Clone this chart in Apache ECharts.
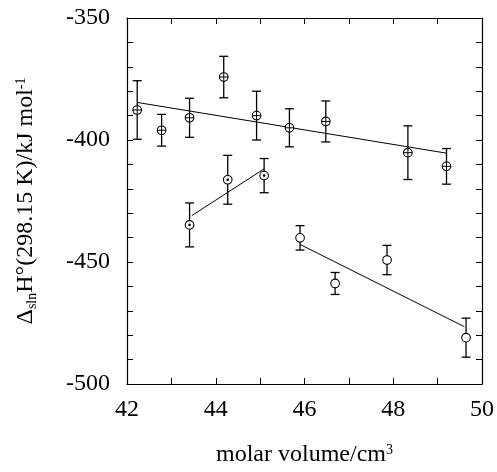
<!DOCTYPE html>
<html><head><meta charset="utf-8">
<script src="https://cdn.jsdelivr.net/npm/echarts@6/dist/echarts.min.js"></script>
<style>html,body{margin:0;padding:0;background:#fff}#c{width:497px;height:472px}</style>
</head><body><div id="c"></div>
<script>
const s1X = [42.23, 42.78, 43.41, 44.18, 44.92, 45.66, 46.48, 48.33, 49.20];
const s1Y = [-387.7, -396.0, -390.9, -374.2, -390.0, -395.0, -392.4, -405.2, -410.8];
const s1Err = [12, 6.5, 8, 8.5, 10, 7.8, 8.4, 11, 7.3];
const s2X = [43.41, 44.27, 45.09];
const s2Y = [-434.8, -416.3, -414.6];
const s2Err = [9, 10, 7];
const s3X = [45.90, 46.69, 47.86, 49.64];
const s3Y = [-440.1, -458.8, -449.2, -481.0];
const s3Err = [5, 4.5, 6, 8];
const fit1X = [42.23, 49.2], fit1Y = [-384.6, -405.4];
const fit2X = [43.46, 45.09], fit2Y = [-431.0, -411.8];
const fit3X = [45.9, 49.6], fit3Y = [-442.8, -476.5];
const xTickLabels = ['42', '44', '46', '48', '50'];
const yTickLabels = ['-350', '-400', '-450', '-500'];

const FONT = "'Liberation Serif', 'Times New Roman', Times, serif";
const pts = (xs, ys, es) => xs.map((x, i) => [x, ys[i], es[i]]);
const line = (xs, ys) => xs.map((x, i) => [x, ys[i]]);

function errRender(params, api) {
  const x = api.value(0), y = api.value(1), e = api.value(2);
  const top = api.coord([x, y + e]), bot = api.coord([x, y - e]);
  const c = 4.5;
  const st = { stroke: '#000', lineWidth: 1.3 };
  return { type: 'group', children: [
    { type: 'line', shape: { x1: top[0], y1: top[1], x2: bot[0], y2: bot[1] }, style: st },
    { type: 'line', shape: { x1: top[0] - c, y1: top[1], x2: top[0] + c, y2: top[1] }, style: st },
    { type: 'line', shape: { x1: bot[0] - c, y1: bot[1], x2: bot[0] + c, y2: bot[1] }, style: st }
  ]};
}
function markRender(kind) {
  return function (params, api) {
    const p = api.coord([api.value(0), api.value(1)]);
    const r = 4.3;
    const st = { stroke: '#000', lineWidth: 1.1, fill: '#fff' };
    const ch = [{ type: 'circle', shape: { cx: p[0], cy: p[1], r: r }, style: st }];
    if (kind === 'plus') {
      ch.push({ type: 'line', shape: { x1: p[0] - r, y1: p[1], x2: p[0] + r, y2: p[1] }, style: { stroke: '#000', lineWidth: 1 } });
      ch.push({ type: 'line', shape: { x1: p[0], y1: p[1] - r, x2: p[0], y2: p[1] + r }, style: { stroke: '#000', lineWidth: 1 } });
    } else if (kind === 'dot') {
      ch.push({ type: 'circle', shape: { cx: p[0], cy: p[1], r: 1.3 }, style: { fill: '#000' } });
    }
    return { type: 'group', children: ch };
  };
}

const chart = echarts.init(document.getElementById('c'));
const axisLine = { show: true, lineStyle: { color: '#000', width: 1.2 } };
const tickStyle = { color: '#000', width: 1 };
chart.setOption({
  animation: false,
  backgroundColor: '#fff',
  grid: { left: 127, right: 15, top: 18, bottom: 81 },
  xAxis: [{
    type: 'value', min: 42, max: 50, interval: 1, position: 'bottom',
    axisLine: axisLine, splitLine: { show: false },
    axisTick: { inside: true, length: 6, lineStyle: tickStyle },
    axisLabel: { fontFamily: FONT, fontSize: 24, color: '#000', margin: 14,
      formatter: v => xTickLabels.includes(String(v)) ? String(v) : '' },
    name: 'molar volume/cm{sup|3}', nameLocation: 'middle', nameGap: 59,
    nameTextStyle: { fontFamily: FONT, fontSize: 24, color: '#000',
      rich: { sup: { fontFamily: FONT, fontSize: 14, color: '#000', verticalAlign: 'top', padding: [0, 0, 10, 0] } } }
  }, {
    type: 'value', min: 42, max: 50, interval: 1, position: 'top',
    axisLine: axisLine, splitLine: { show: false },
    axisTick: { inside: true, length: 6, lineStyle: tickStyle },
    axisLabel: { show: false }
  }],
  yAxis: [{
    type: 'value', min: -500, max: -350, interval: 10, position: 'left',
    axisLine: axisLine, splitLine: { show: false },
    axisTick: { inside: true, length: 6, lineStyle: tickStyle },
    axisLabel: { fontFamily: FONT, fontSize: 24, color: '#000', margin: 17,
      formatter: v => yTickLabels.includes(String(v)) ? String(v) : '' },
    name: 'Δ{sub|sln}H°(298.15 K)/kJ mol{sup|-1}', nameLocation: 'middle', nameRotate: 90, nameGap: 88,
    nameTextStyle: { fontFamily: FONT, fontSize: 24, color: '#000',
      rich: {
        sub: { fontFamily: FONT, fontSize: 14, color: '#000', padding: [12, 0, 0, 0] },
        sup: { fontFamily: FONT, fontSize: 14, color: '#000', padding: [0, 0, 10, 0] }
      } }
  }, {
    type: 'value', min: -500, max: -350, interval: 10, position: 'right',
    axisLine: axisLine, splitLine: { show: false },
    axisTick: { inside: true, length: 6, lineStyle: tickStyle },
    axisLabel: { show: false }
  }],
  series: [
    { type: 'line', data: line(fit1X, fit1Y), symbol: 'none', lineStyle: { color: '#000', width: 1 }, z: 2 },
    { type: 'line', data: line(fit2X, fit2Y), symbol: 'none', lineStyle: { color: '#000', width: 1 }, z: 2 },
    { type: 'line', data: line(fit3X, fit3Y), symbol: 'none', lineStyle: { color: '#000', width: 1 }, z: 2 },
    { type: 'custom', data: pts(s1X, s1Y, s1Err), renderItem: errRender, z: 3 },
    { type: 'custom', data: pts(s2X, s2Y, s2Err), renderItem: errRender, z: 3 },
    { type: 'custom', data: pts(s3X, s3Y, s3Err), renderItem: errRender, z: 3 },
    { type: 'custom', data: pts(s1X, s1Y, s1Err), renderItem: markRender('plus'), z: 4 },
    { type: 'custom', data: pts(s2X, s2Y, s2Err), renderItem: markRender('dot'), z: 4 },
    { type: 'custom', data: pts(s3X, s3Y, s3Err), renderItem: markRender('open'), z: 4 }
  ]
});
</script></body></html>
